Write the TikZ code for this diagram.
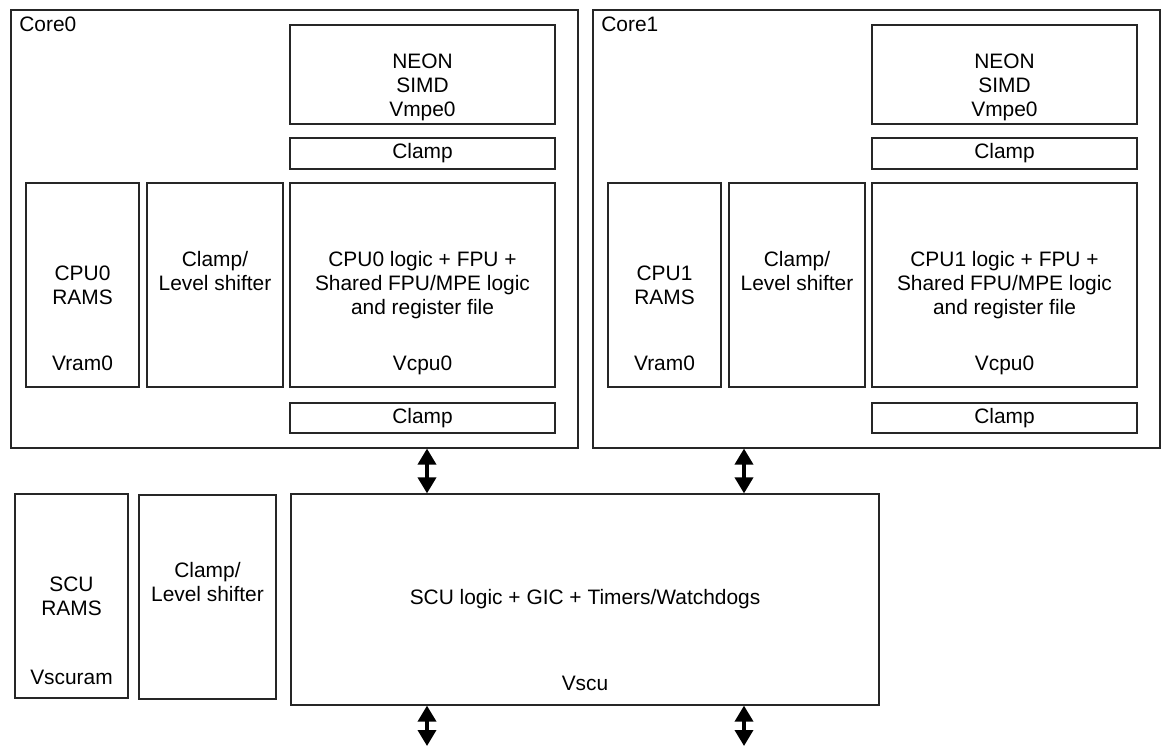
\documentclass[tikz,border=0pt]{standalone}
\usepackage{fontspec}
\setmainfont{Liberation Sans}
\usepackage{tikz}
\usetikzlibrary{arrows.meta}

\begin{document}
\begin{tikzpicture}[
		x=0.02cm, y=-0.02cm,
		font=\fontsize{11.9}{13.6}\selectfont,
		blk/.style={rectangle, draw=black!85, line width=0.7pt, align=center, inner sep=0pt},
		txt/.style={align=center, inner sep=0pt},
		bus/.style={{Triangle[length=0.32cm, width=0.36cm]}-{Triangle[length=0.32cm, width=0.36cm]}, line width=2pt}
	]
	\useasboundingbox (0,0) rectangle (1164,747);

	% the two cores
	\foreach \i in {0,1} {
			\begin{scope}[shift={(\i*582,0)}]
				\node[blk, minimum width=11.34cm, minimum height=8.76cm] (C\i) at (294.5,229) {};
				\node[txt, anchor=west] (T\i) at (19,24) {Core\i};

				\node[blk, minimum width=5.3cm, minimum height=1.98cm] (N\i) at (422.5,74.5) {};
				\node[txt] (NT\i) at ([yshift=-0.25cm]N\i.center) {NEON\\SIMD\\Vmpe0};
				\node[blk, minimum width=5.3cm, minimum height=0.62cm] (K\i) at (422.5,153.5) {Clamp};

				\node[blk, minimum width=2.26cm, minimum height=4.08cm] (R\i) at (82.5,285) {CPU\i\\RAMS};
				\node[txt, anchor=base] (RV\i) at ([yshift=0.35cm]R\i.south) {Vram0};

				\node[blk, minimum width=2.72cm, minimum height=4.08cm] (L\i) at (215,285) {};
				\node[txt] (LT\i) at ([yshift=0.28cm]L\i.center) {Clamp/\\Level shifter};

				\node[blk, minimum width=5.3cm, minimum height=4.08cm] (P\i) at (422.5,285)
				{CPU\i{} logic + FPU +\\Shared FPU/MPE logic\\and register file};
				\node[txt, anchor=base] (PV\i) at ([yshift=0.35cm]P\i.south) {Vcpu0};

				\node[blk, minimum width=5.3cm, minimum height=0.6cm] (B\i) at (422.5,418) {Clamp};
			\end{scope}
		}

	% snoop control unit
	\node[blk, minimum width=2.26cm, minimum height=4.08cm] (SR) at (71.5,596) {SCU\\RAMS};
	\node[txt, anchor=base] (SRV) at ([yshift=0.28cm]SR.south) {Vscuram};
	\node[blk, minimum width=2.74cm, minimum height=4.08cm] (SL) at (207.5,597) {};
	\node[txt] (SLT) at ([yshift=0.3cm]SL.center) {Clamp/\\Level shifter};
	\node[blk, minimum width=11.76cm, minimum height=4.22cm] (SC) at (585,599.5)
	{SCU logic + GIC + Timers/Watchdogs};
	\node[txt, anchor=base] (SCV) at ([yshift=0.3cm]SC.south) {Vscu};

	\coordinate (A0) at (427,0);
	\coordinate (A1) at (744,0);
	\coordinate (E0) at (427,746);
	\coordinate (E1) at (744,746);
	\foreach \i in {0,1} {
			\draw[bus] (C\i.south -| A\i) -- (SC.north -| A\i);
			\draw[bus] (SC.south -| A\i) -- (E\i);
		}
\end{tikzpicture}
\end{document}
